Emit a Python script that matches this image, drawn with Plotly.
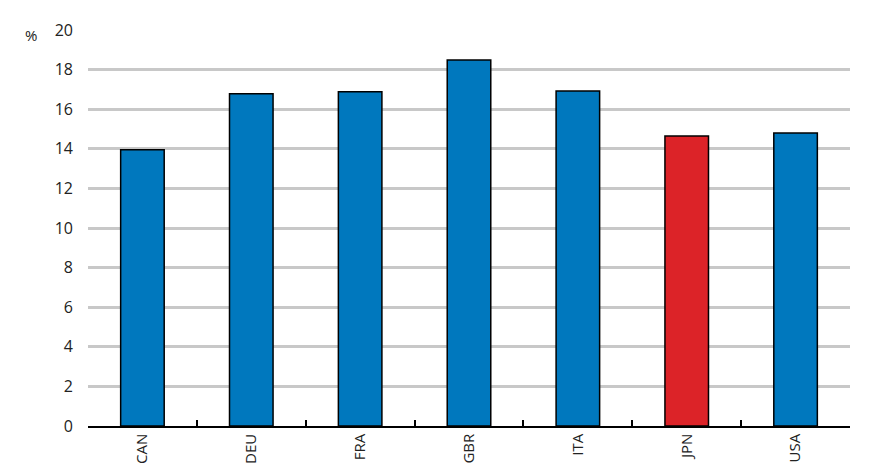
import plotly.graph_objects as go

categories = ["CAN", "DEU", "FRA", "GBR", "ITA", "JPN", "USA"]
values = [13.95, 16.78, 16.88, 18.48, 16.92, 14.65, 14.8]
highlight = "JPN"
y_ticks = [0, 2, 4, 6, 8, 10, 12, 14, 16, 18, 20]

blue = "#0078be"
red = "#dc2328"
colors = [red if c == highlight else blue for c in categories]

fig = go.Figure()
fig.add_trace(go.Bar(
    x=categories, y=values,
    marker=dict(color=colors, line=dict(color="black", width=1.5)),
    width=0.4,
))

fig.update_layout(
    width=867, height=465,
    margin=dict(l=80, r=25, t=22, b=47),
    paper_bgcolor="white", plot_bgcolor="white",
    showlegend=False,
    font=dict(family="Open Sans, Noto Sans, sans-serif", color="#222222"),
    bargap=0.6,
)
fig.update_yaxes(
    range=[0, 20], tickvals=y_ticks, automargin=False,
    showgrid=True, gridcolor="#c8c8c8", gridwidth=3,
    zeroline=False, showline=False, ticks="",
    tickfont=dict(size=16), ticklabelstandoff=14,
)
fig.update_xaxes(
    showline=True, linecolor="black", linewidth=1.5, automargin=False,
    ticks="inside", tickson="boundaries", ticklen=6, tickcolor="black", tickwidth=1.5,
    tickangle=-90, tickfont=dict(size=15),
    showgrid=False,
)
fig.add_annotation(
    text="%", xref="paper", yref="y", x=-0.075, y=19.75,
    showarrow=False, font=dict(size=15), xanchor="center", yanchor="middle",
)
fig.write_html("out.html")
